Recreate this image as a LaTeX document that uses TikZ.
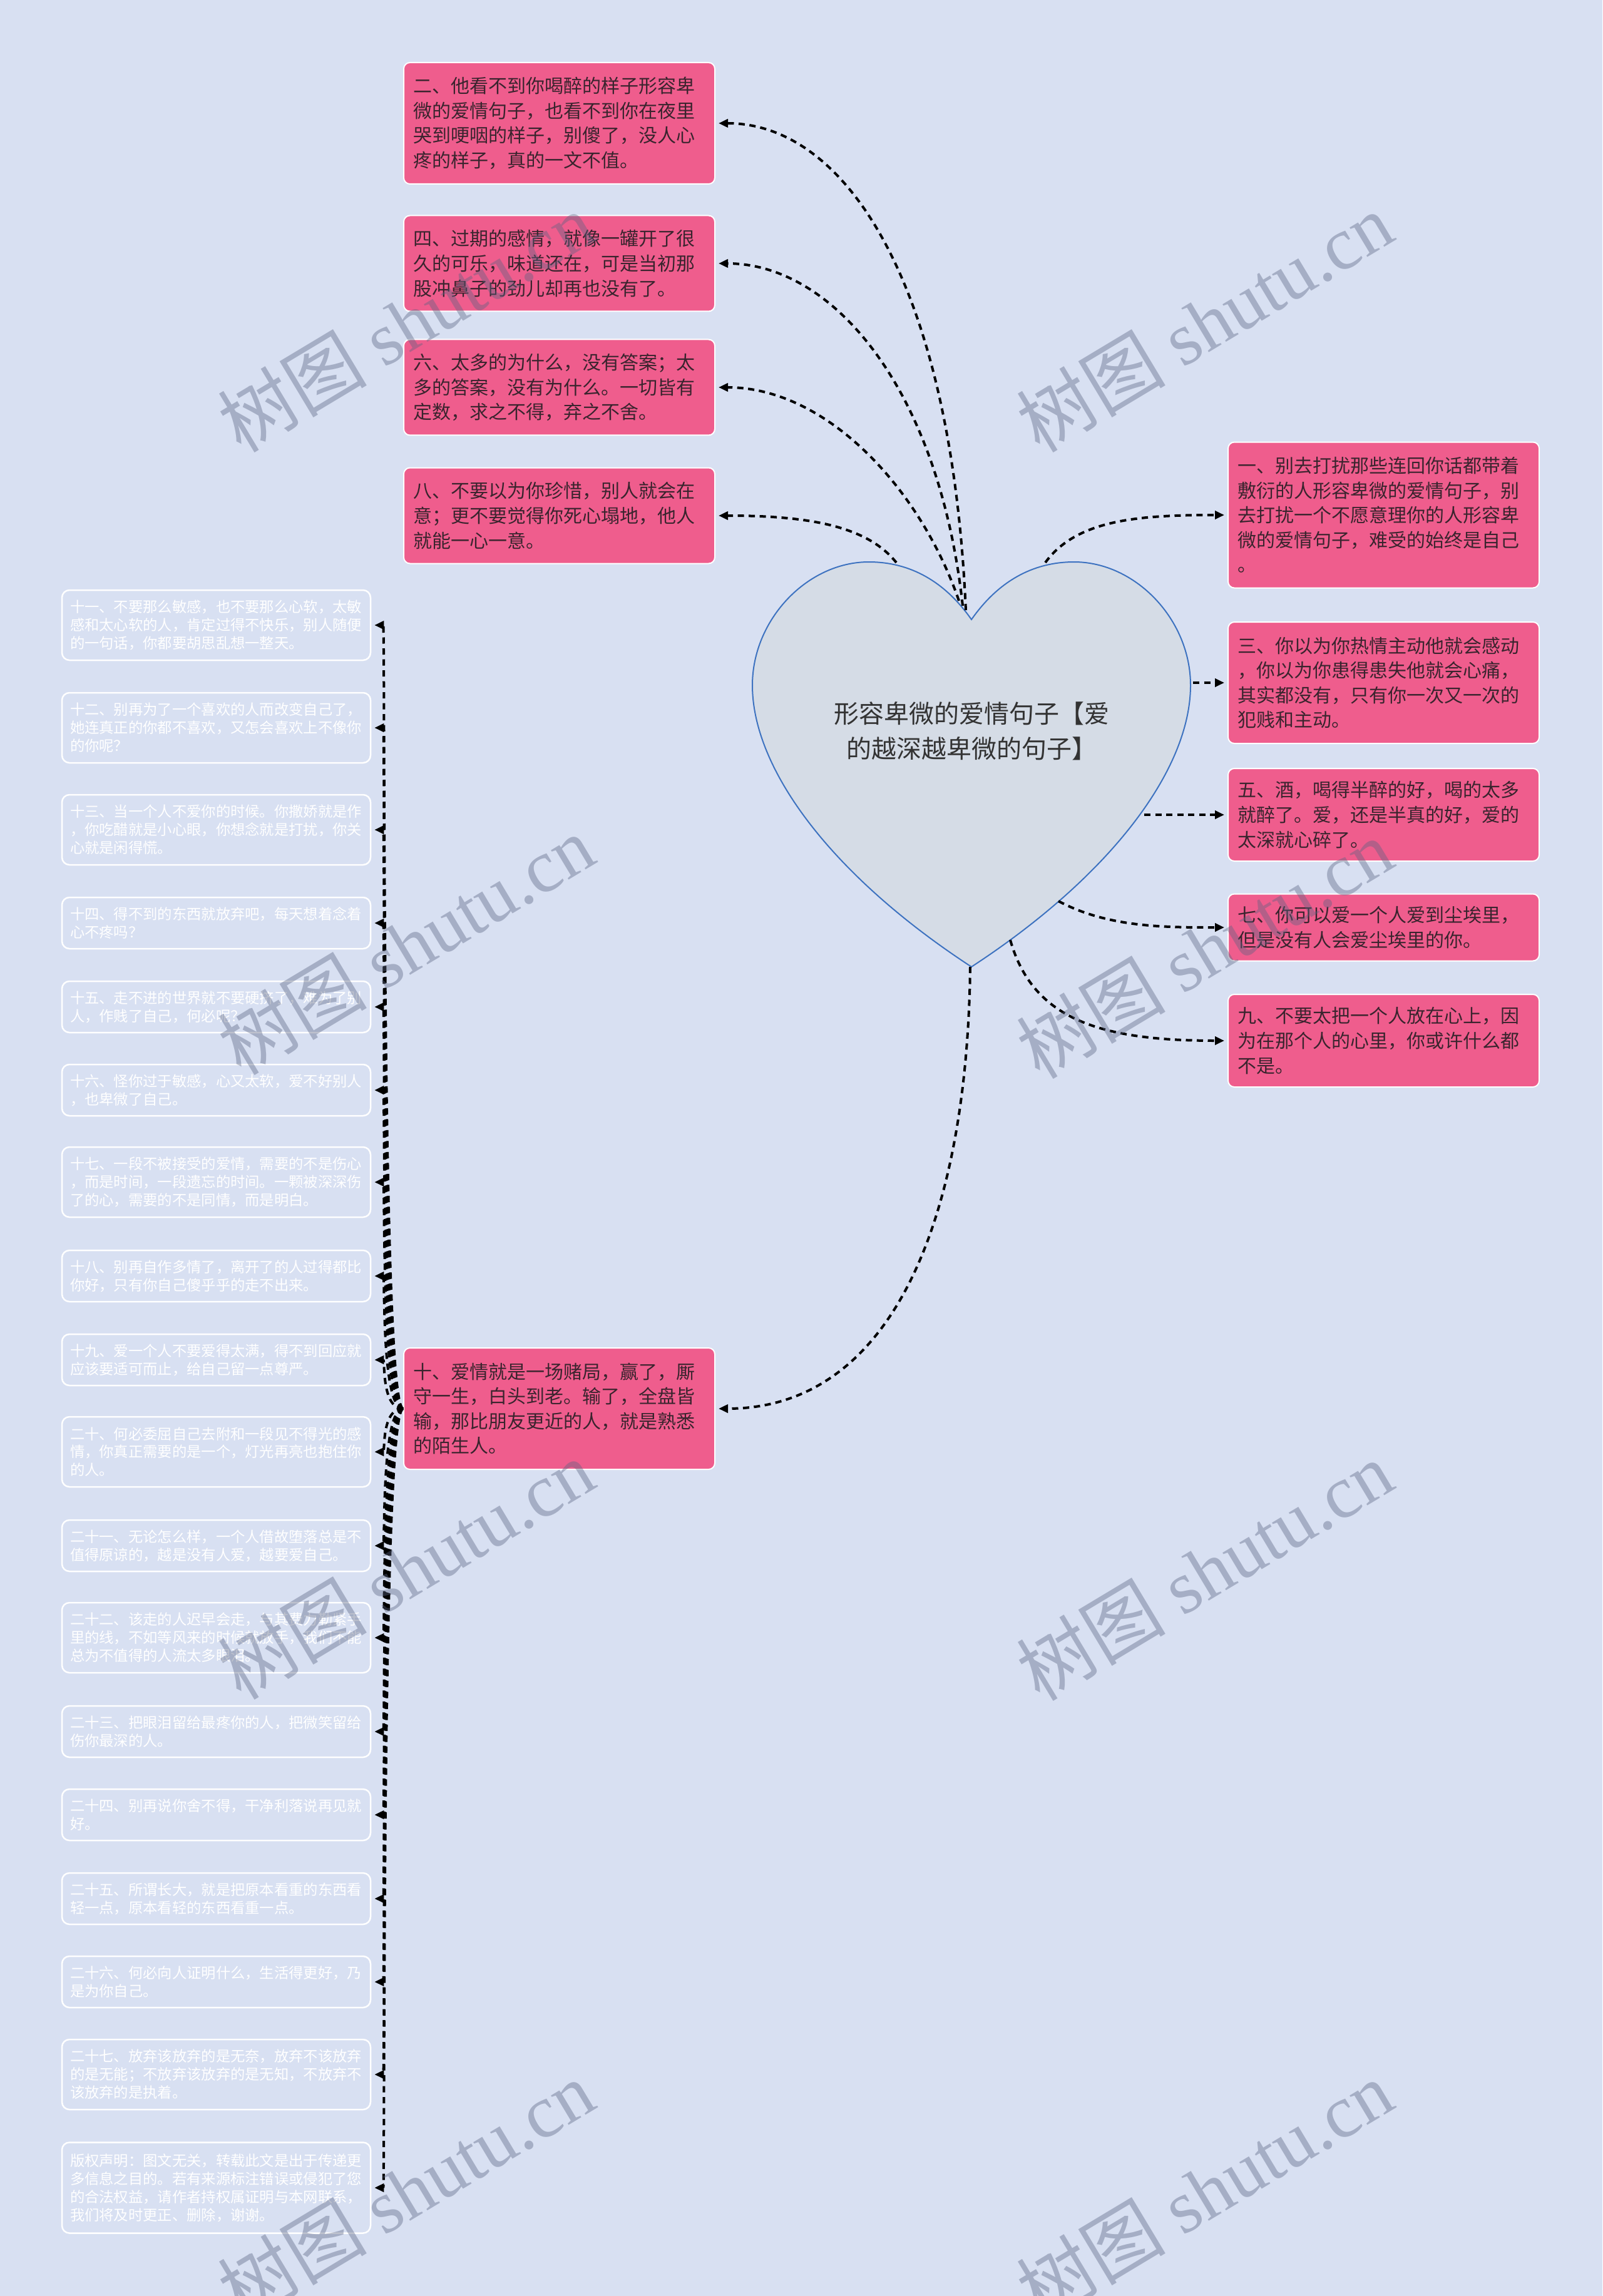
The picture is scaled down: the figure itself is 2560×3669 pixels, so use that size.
\documentclass[tikz,border=0pt]{standalone}
\usepackage{fontspec}
\setmainfont{Noto Sans CJK SC}
\newfontfamily\wmfont{Liberation Serif}
\usetikzlibrary{arrows.meta}
\definecolor{bgblue}{RGB}{216,224,242}
\definecolor{rosebox}{RGB}{239,93,141}
\definecolor{rosetext}{RGB}{58,36,46}
\definecolor{heartfill}{RGB}{213,220,230}
\definecolor{heartline}{RGB}{61,114,192}
\definecolor{titlegray}{RGB}{51,51,51}
\definecolor{markgray}{RGB}{90,100,130}
\tikzset{
  pinkbox/.style={draw=white, line width=0.2mm, fill=rosebox, rounded corners=1mm,
    text=rosetext, align=left, text width=4.67cm, inner xsep=1.5mm, inner ysep=0pt,
    font=\fontsize{8.54pt}{11.27pt}\selectfont},
  palebox/.style={draw=white, line width=0.25mm, fill=bgblue, rounded corners=1.2mm,
    text=white, align=left, text width=4.67cm, inner xsep=1.3mm, inner ysep=0pt,
    font=\fontsize{6.63pt}{8.25pt}\selectfont},
  link/.style={draw=black, line width=0.4mm, dash pattern=on 1mm off 0.75mm,
    shorten >=0.5mm, -{Triangle[length=1.5mm,width=1.3mm]}},
  wmlabel/.style={rotate=31, text=markgray, text opacity=0.4,
    font=\fontsize{34pt}{40pt}\selectfont}
}
\begin{document}
\begin{tikzpicture}[x=0.1mm, y=0.1mm]
\useasboundingbox (0,0) rectangle (2560,-3669);
\fill [bgblue] (0,0) rectangle (2560,-3669);
\draw [heartline, fill=heartfill, line width=0.2mm] (1552,-990)
  .. controls (1510,-930) and (1455,-898) .. (1388,-898)
  .. controls (1290,-898) and (1202,-990) .. (1202,-1095)
  .. controls (1202,-1230) and (1330,-1400) .. (1552,-1545)
  .. controls (1774,-1400) and (1902,-1230) .. (1902,-1095)
  .. controls (1902,-990) and (1814,-898) .. (1716,-898)
  .. controls (1649,-898) and (1594,-930) .. (1552,-990) -- cycle;
\node [text=titlegray, align=center, font=\fontsize{11.38pt}{15.94pt}\selectfont] (root) at (1552,-1168) {形容卑微的爱情句子【爱\\的越深越卑微的句子】};
\coordinate (s2) at (1543,-975);
\coordinate (s4) at (1538,-968);
\coordinate (s6) at (1532,-960);
\coordinate (s8) at (1432,-899);
\coordinate (s1) at (1670,-899);
\coordinate (s3) at (1906,-1091);
\coordinate (s5) at (1828,-1302);
\coordinate (s7) at (1691,-1440);
\coordinate (s9) at (1614,-1502);
\coordinate (tip) at (1550,-1545);

\node [pinkbox, minimum height=19.4mm] (two) at (893.5,-197) {二、他看不到你喝醉的样子形容卑\\微的爱情句子，也看不到你在夜里\\哭到哽咽的样子，别傻了，没人心\\疼的样子，真的一文不值。};
\node [pinkbox, minimum height=15.3mm] (four) at (893.5,-421) {四、过期的感情，就像一罐开了很\\久的可乐，味道还在，可是当初那\\股冲鼻子的劲儿却再也没有了。};
\node [pinkbox, minimum height=15.3mm] (six) at (893.5,-619) {六、太多的为什么，没有答案；太\\多的答案，没有为什么。一切皆有\\定数，求之不得，弃之不舍。};
\node [pinkbox, minimum height=15.3mm] (eight) at (893.5,-824) {八、不要以为你珍惜，别人就会在\\意；更不要觉得你死心塌地，他人\\就能一心一意。};
\node [pinkbox, minimum height=23.3mm] (one) at (2210.5,-823) {一、别去打扰那些连回你话都带着\\敷衍的人形容卑微的爱情句子，别\\去打扰一个不愿意理你的人形容卑\\微的爱情句子，难受的始终是自己\\。};
\node [pinkbox, minimum height=19.4mm] (three) at (2210.5,-1091) {三、你以为你热情主动他就会感动\\，你以为你患得患失他就会心痛，\\其实都没有，只有你一次又一次的\\犯贱和主动。};
\node [pinkbox, minimum height=14.8mm] (five) at (2210.5,-1302) {五、酒，喝得半醉的好，喝的太多\\就醉了。爱，还是半真的好，爱的\\太深就心碎了。};
\node [pinkbox, minimum height=10.7mm] (seven) at (2210.5,-1482) {七、你可以爱一个人爱到尘埃里，\\但是没有人会爱尘埃里的你。};
\node [pinkbox, minimum height=14.8mm] (nine) at (2210.5,-1663) {九、不要太把一个人放在心上，因\\为在那个人的心里，你或许什么都\\不是。};
\node [pinkbox, minimum height=19.4mm] (ten) at (893.5,-2251) {十、爱情就是一场赌局，赢了，厮\\守一生，白头到老。输了，全盘皆\\输，那比朋友更近的人，就是熟悉\\的陌生人。};

\node [palebox, minimum height=11.2mm] (q11) at (345.5,-999) {十一、不要那么敏感，也不要那么心软，太敏\\感和太心软的人，肯定过得不快乐，别人随便\\的一句话，你都要胡思乱想一整天。};
\node [palebox, minimum height=11.2mm] (q12) at (345.5,-1163) {十二、别再为了一个喜欢的人而改变自己了，\\她连真正的你都不喜欢，又怎会喜欢上不像你\\的你呢？};
\node [palebox, minimum height=11.2mm] (q13) at (345.5,-1326) {十三、当一个人不爱你的时候。你撒娇就是作\\，你吃醋就是小心眼，你想念就是打扰，你关\\心就是闲得慌。};
\node [palebox, minimum height=8.2mm] (q14) at (345.5,-1475) {十四、得不到的东西就放弃吧，每天想着念着\\心不疼吗？};
\node [palebox, minimum height=8.2mm] (q15) at (345.5,-1609) {十五、走不进的世界就不要硬挤了，难为了别\\人，作贱了自己，何必呢？};
\node [palebox, minimum height=8.2mm] (q16) at (345.5,-1742) {十六、怪你过于敏感，心又太软，爱不好别人\\，也卑微了自己。};
\node [palebox, minimum height=11.2mm] (q17) at (345.5,-1889) {十七、一段不被接受的爱情，需要的不是伤心\\，而是时间，一段遗忘的时间。一颗被深深伤\\了的心，需要的不是同情，而是明白。};
\node [palebox, minimum height=8.2mm] (q18) at (345.5,-2039) {十八、别再自作多情了，离开了的人过得都比\\你好，只有你自己傻乎乎的走不出来。};
\node [palebox, minimum height=8.2mm] (q19) at (345.5,-2173) {十九、爱一个人不要爱得太满，得不到回应就\\应该要适可而止，给自己留一点尊严。};
\node [palebox, minimum height=11.2mm] (q20) at (345.5,-2320) {二十、何必委屈自己去附和一段见不得光的感\\情，你真正需要的是一个，灯光再亮也抱住你\\的人。};
\node [palebox, minimum height=8.2mm] (q21) at (345.5,-2470) {二十一、无论怎么样，一个人借故堕落总是不\\值得原谅的，越是没有人爱，越要爱自己。};
\node [palebox, minimum height=11.2mm] (q22) at (345.5,-2617) {二十二、该走的人迟早会走，与其费力勒紧手\\里的线，不如等风来的时候就放手，我们不能\\总为不值得的人流太多眼泪。};
\node [palebox, minimum height=8.2mm] (q23) at (345.5,-2767) {二十三、把眼泪留给最疼你的人，把微笑留给\\伤你最深的人。};
\node [palebox, minimum height=8.2mm] (q24) at (345.5,-2900) {二十四、别再说你舍不得，干净利落说再见就\\好。};
\node [palebox, minimum height=8.2mm] (q25) at (345.5,-3034) {二十五、所谓长大，就是把原本看重的东西看\\轻一点，原本看轻的东西看重一点。};
\node [palebox, minimum height=8.2mm] (q26) at (345.5,-3167) {二十六、何必向人证明什么，生活得更好，乃\\是为你自己。};
\node [palebox, minimum height=11.2mm] (q27) at (345.5,-3315) {二十七、放弃该放弃的是无奈，放弃不该放弃\\的是无能；不放弃该放弃的是无知，不放弃不\\该放弃的是执着。};
\node [palebox, minimum height=14.5mm] (notice) at (345.5,-3496) {版权声明：图文无关，转载此文是出于传递更\\多信息之目的。若有来源标注错误或侵犯了您\\的合法权益，请作者持权属证明与本网联系，\\我们将及时更正、删除，谢谢。};

\draw [link] (s2) .. controls (1520,-450) and (1350,-197) .. (two.east);
\draw [link] (s4) .. controls (1500,-620) and (1330,-421) .. (four.east);
\draw [link] (s6) .. controls (1470,-780) and (1320,-619) .. (six.east);
\draw [link] (s8) .. controls (1385,-840) and (1290,-824) .. (eight.east);
\draw [link] (s1) .. controls (1720,-830) and (1820,-823) .. (one.west);
\draw [link] (s3) -- (three.west);
\draw [link] (s5) -- (five.west);
\draw [link] (s7) .. controls (1770,-1482) and (1860,-1482) .. (seven.west);
\draw [link] (s9) .. controls (1650,-1630) and (1760,-1663) .. (nine.west);
\draw [link] (tip) .. controls (1545,-1960) and (1420,-2251) .. (ten.east);
\foreach \n in {q11,q12,q13,q14,q15,q16,q17,q18,q19,q20,q21,q22,q23,q24,q25,q26,q27,notice}
  \draw [link] (ten.west) .. controls +(-35,0) and +(22,0) .. (\n.east);

\node [wmlabel] (wm1) at (648,-515) {树图 {\wmfont shutu.cn}};
\node [wmlabel] (wm2) at (1924,-515) {树图 {\wmfont shutu.cn}};
\node [wmlabel] (wm3) at (648,-1510) {树图 {\wmfont shutu.cn}};
\node [wmlabel] (wm4) at (1924,-1516) {树图 {\wmfont shutu.cn}};
\node [wmlabel] (wm5) at (648,-2508) {树图 {\wmfont shutu.cn}};
\node [wmlabel] (wm6) at (1924,-2510) {树图 {\wmfont shutu.cn}};
\node [wmlabel] (wm7) at (648,-3500) {树图 {\wmfont shutu.cn}};
\node [wmlabel] (wm8) at (1924,-3500) {树图 {\wmfont shutu.cn}};
\end{tikzpicture}
\end{document}
